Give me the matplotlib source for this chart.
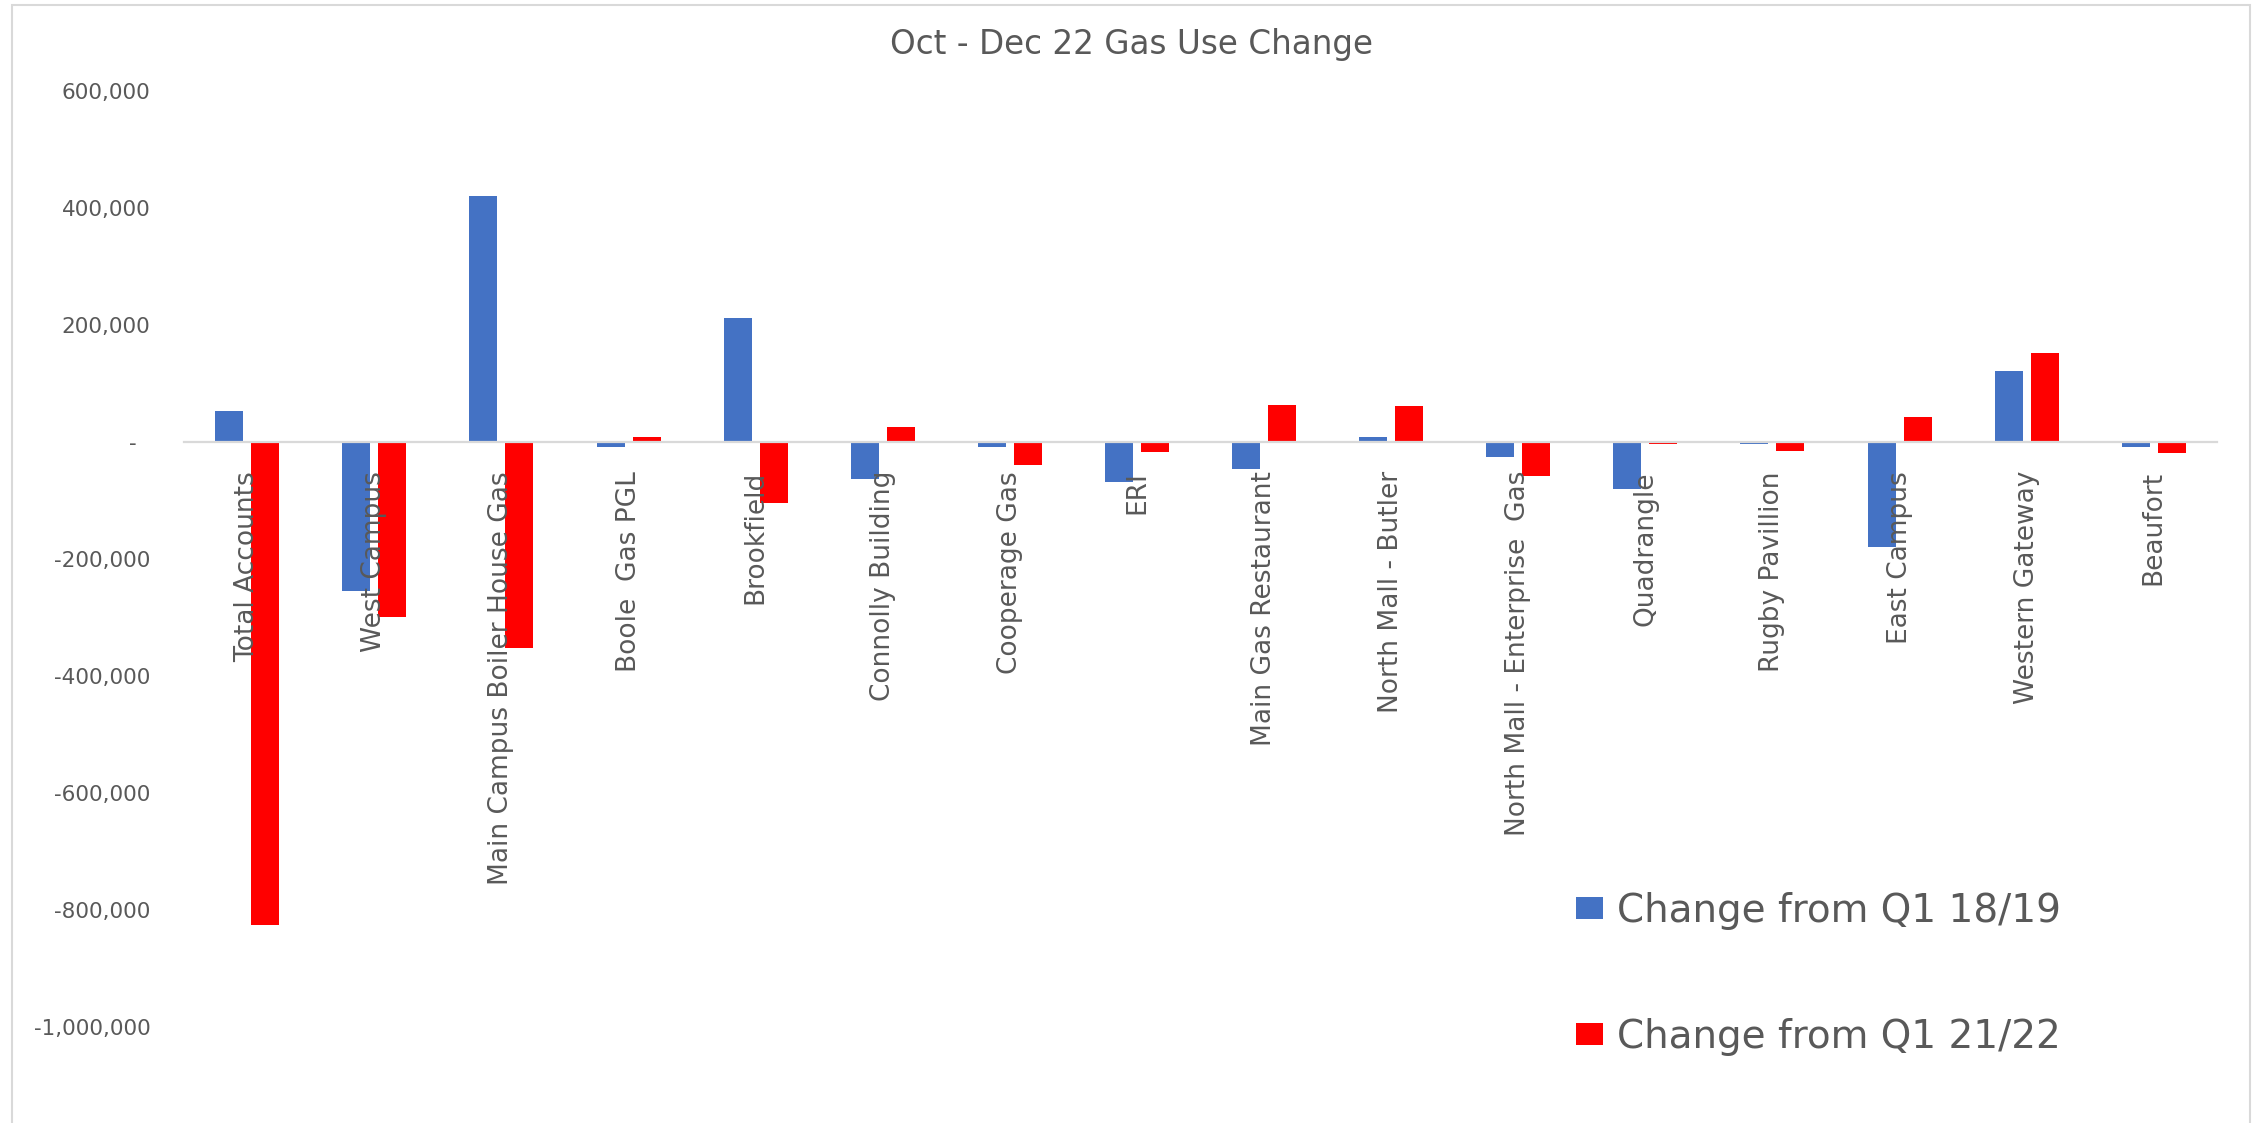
#grafico: cambio de uso de gas Oct - Dic 22
import matplotlib
matplotlib.use("Agg")
import matplotlib.pyplot as plt
from matplotlib.patches import Rectangle
from matplotlib.ticker import FuncFormatter

# datos
sitios = ['Total Accounts', 'West Campus', 'Main Campus Boiler House Gas',
          'Boole  Gas PGL', 'Brookfield', 'Connolly Building', 'Cooperage Gas',
          'ERI', 'Main Gas Restaurant', 'North Mall - Butler',
          'North Mall - Enterprise  Gas', 'Quadrangle', 'Rugby Pavillion',
          'East Campus', 'Western Gateway', 'Beaufort']
cambio_18_19 = [53000, -255000, 421000, -9000, 212000, -63000, -9000, -68000,
                -46000, 9000, -25000, -81000, -4000, -179000, 122000, -8000]
cambio_21_22 = [-826000, -300000, -352000, 9000, -104000, 25000, -40000, -17000,
                63000, 61000, -58000, -4000, -15000, 42000, 152000, -19000]
etiquetas_serie = ['Change from Q1 18/19', 'Change from Q1 21/22']
ticks_y = [-1000000, -800000, -600000, -400000, -200000, 0, 200000, 400000, 600000]

gris = '#595959'
W, H = 2265, 1123

fig = plt.figure(figsize=(W / 100, H / 100), dpi=100)
ax = fig.add_axes([183.7 / W, 0, 2033.6 / W, 1 - 90.8 / H])

# eje x en cero (antes de dar formato a los ticks)
for s in ['top', 'right', 'left']:
    ax.spines[s].set_visible(False)
ax.spines['bottom'].set_position(('data', 0))
ax.spines['bottom'].set_color('#d9d9d9')
ax.spines['bottom'].set_linewidth(1.6)

x = list(range(len(sitios)))
ancho = 0.22
desp = 0.1415
ax.bar([i - desp for i in x], cambio_18_19, ancho, color='#4472C4', label=etiquetas_serie[0])
ax.bar([i + desp for i in x], cambio_21_22, ancho, color='#FF0000', label=etiquetas_serie[1])

ax.set_xlim(-0.5, len(sitios) - 0.5)
ax.set_ylim(-1164000, 600000)
ax.set_yticks(ticks_y)
ax.yaxis.set_major_formatter(FuncFormatter(lambda v, p: '-  ' if v == 0 else f'{v:,.0f}'))

ax.set_xticks(x)
ax.set_xticklabels(sitios)
ax.tick_params(axis='x', length=0, pad=21, labelrotation=90, labelsize=19, labelcolor=gris)
ax.tick_params(axis='y', length=0, pad=24, labelsize=15.5, labelcolor=gris)
for lab in ax.get_xticklabels():
    lab.set_va('top')
    lab.set_ha('center')

ax.set_zorder(1)
ax.patch.set_visible(False)

fig.text(0.4996, 1 - 54 / H, 'Oct - Dec 22 Gas Use Change', ha='center',
         va='baseline', fontsize=23.5, color=gris)

leg = ax.legend(loc='upper left', bbox_to_anchor=(1576 / W, 1 - 892 / H),
                bbox_transform=fig.transFigure, frameon=False, fontsize=28,
                labelspacing=2.26, handlelength=0.7, handleheight=0.51,
                handletextpad=0.36, borderpad=0, borderaxespad=0)
for t in leg.get_texts():
    t.set_color(gris)

# marco del grafico
fig.patches.append(Rectangle((12 / W, -0.05), (2250 - 12) / W, 1.05 - 4.5 / H,
                             transform=fig.transFigure, fill=False,
                             edgecolor='#d9d9d9', linewidth=1.5))

fig.savefig('out.png', dpi=100)
